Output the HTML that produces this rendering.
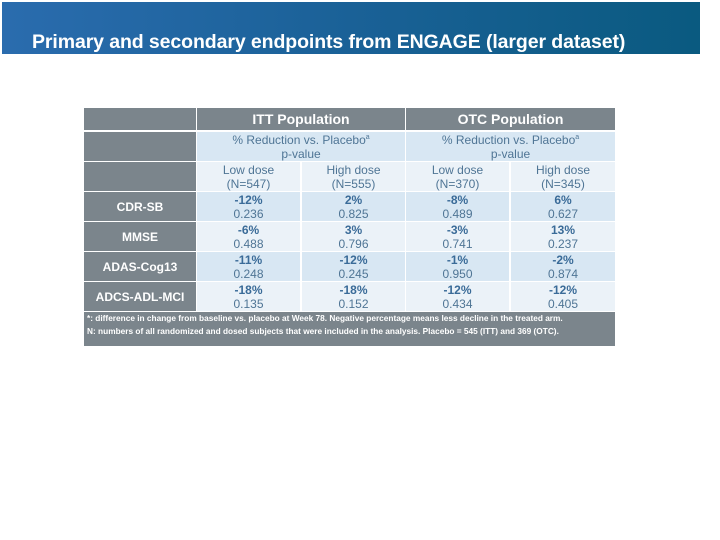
<!DOCTYPE html>
<html><head><meta charset="utf-8"><style>
body{margin:0;width:720px;height:540px;background:#fff;position:relative;overflow:hidden;font-family:"Liberation Sans",Arial,sans-serif}
#hdr{position:absolute;left:2px;top:2px;width:698px;height:52px;background:linear-gradient(90deg,#2a6cae,#1a6197 50%,#0a5a80)}
#hdr span{position:absolute;left:30px;top:29px;color:#fff;font-weight:bold;font-size:19.5px;letter-spacing:-0.1px}
.c{position:absolute;box-sizing:border-box;display:flex;flex-direction:column;justify-content:center;align-items:center;text-align:center;line-height:14px;font-size:12px;color:#4f7595}
.g{background:#7b858c;color:#fff;font-weight:bold;font-size:12px}
.b{font-weight:bold;color:#3a6b98}
</style></head><body>
<div id="hdr"><span>Primary and secondary endpoints from ENGAGE (larger dataset)</span></div>
<div id="tbl"></div>
<script>
var cols=[[84,112],[197,103],[302,103],[406,103],[511,104]];
var rowsY=[[108,22],[132,29],[162,29],[192,29],[222,29],[252,29],[282,29]];
var endpoints=['CDR-SB','MMSE','ADAS-Cog13','ADCS-ADL-MCI'];
var pct=[['-12%','2%','-8%','6%'],['-6%','3%','-3%','13%'],['-11%','-12%','-1%','-2%'],['-18%','-18%','-12%','-12%']];
var pv=[['0.236','0.825','0.489','0.627'],['0.488','0.796','0.741','0.237'],['0.248','0.245','0.950','0.874'],['0.135','0.152','0.434','0.405']];
var doses=['Low dose<br>(N=547)','High dose<br>(N=555)','Low dose<br>(N=370)','High dose<br>(N=345)'];
var body=document.body;
function cell(x,y,w,h,html,cls,bg,name){var d=document.createElement('div');d.className='c '+(cls||'');d.style.cssText='left:'+x+'px;top:'+y+'px;width:'+w+'px;height:'+h+'px;'+(bg?'background:'+bg:'');d.innerHTML='<div>'+html+'</div>';


body.appendChild(d);return d;}
for(var r=0;r<3;r++){cell(84,rowsY[r][0],112,rowsY[r][1],'','g','','header-corner-'+r);}
cell(197,108,208,22,'<span style="font-size:14px">ITT Population</span>','g','','itt-header');
cell(406,108,209,22,'<span style="font-size:14px">OTC Population</span>','g','','otc-header');
cell(197,132,208,29,'% Reduction vs. Placebo<sup style="font-size:7px;line-height:0">a</sup><br>p-value','','#d8e7f3','itt-subheader');
cell(406,132,209,29,'% Reduction vs. Placebo<sup style="font-size:7px;line-height:0">a</sup><br>p-value','','#d8e7f3','otc-subheader');
for(var j=0;j<4;j++)cell(cols[j+1][0],162,cols[j+1][1],29,doses[j],'','#ebf2f8','dose-header-'+j);
for(var i=0;i<4;i++){var y=rowsY[i+3][0];var bg=i%2==0?'#d8e7f3':'#ebf2f8';
cell(84,y,112,29,endpoints[i],'g','','endpoint-'+endpoints[i].toLowerCase());
for(var j=0;j<4;j++)cell(cols[j+1][0],y,cols[j+1][1],29,'<span class="b">'+pct[i][j]+'</span><br>'+pv[i][j],'',bg,'value-cell-'+i+'-'+j);}
var f=cell(84,312,531,34,'<div>*: difference in change from baseline vs. placebo at Week 78. Negative percentage means less decline in the treated arm.</div><div style="margin-top:3px">N: numbers of all randomized and dosed subjects that were included in the analysis. Placebo = 545 (ITT) and 369 (OTC).</div>','g','','footnote');
f.style.cssText+=';align-items:flex-start;justify-content:flex-start;font-size:8.3px;line-height:10px;padding:1px 0 0 3px;text-align:left';
</script>
</body></html>
